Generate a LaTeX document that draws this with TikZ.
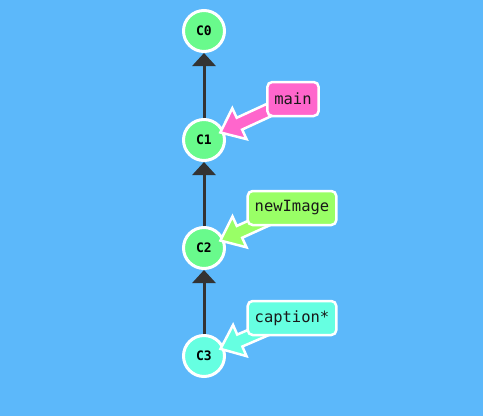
\documentclass[tikz,border=0pt]{standalone}
\usepackage{fontspec}
\setmonofont{DejaVu Sans Mono}
\usetikzlibrary{arrows.meta,calc}
\pgfdeclarelayer{fat}
\pgfdeclarelayer{top}
\pgfsetlayers{main,fat,top}
\definecolor{bg}{RGB}{92,184,250}
\definecolor{commitgreen}{RGB}{105,250,140}
\definecolor{commitcyan}{RGB}{102,255,225}
\definecolor{mainpink}{RGB}{255,102,204}
\definecolor{limegreen}{RGB}{153,255,102}
\definecolor{edgegray}{RGB}{51,51,51}
\newcommand\fatarrow[3]{%
  \begin{pgfonlayer}{fat}
    \coordinate (T) at ($(#2)!18pt!(#1)$);
    \coordinate (H) at ($(T)!21pt!(#1)$);
    \filldraw[fill=#3, draw=white, line width=2.5pt, line join=miter]
      (T) -- ($(H)!17pt!90:(#1)$) -- ($(H)!6.5pt!90:(#1)$)
      -- ($(#1)!6.5pt!-90:(T)$) -- ($(#1)!6.5pt!90:(T)$)
      -- ($(H)!6.5pt!-90:(#1)$) -- ($(H)!17pt!-90:(#1)$) -- cycle;
  \end{pgfonlayer}}
\begin{document}
\begin{tikzpicture}[x=1pt,y=-1pt,
  commit/.style={circle, draw=white, line width=3pt, minimum size=41pt, inner sep=0pt,
    font=\ttfamily\bfseries\fontsize{13}{13}\selectfont, text=black},
  branchlabel/.style={rounded corners=5pt, draw=white, line width=2.5pt,
    minimum height=34pt, inner xsep=7pt, inner ysep=0pt,
    font=\ttfamily\fontsize{15.5}{15.5}\selectfont, text=black!90},
  edge/.style={draw=edgegray, line width=3pt, -{Triangle[width=23pt,length=13pt]}}]
\fill[bg] (0,0) rectangle (483,416);
\useasboundingbox (0,0) rectangle (483,416);

\node[commit, fill=commitgreen] (c0) at (204,31) {C0};
\node[commit, fill=commitgreen] (c1) at (204,140) {C1};
\node[commit, fill=commitgreen] (c2) at (204,248) {C2};
\node[commit, fill=commitcyan] (c3) at (204,356) {C3};

\draw[edge] (c1) -- (c0);
\draw[edge] (c2) -- (c1);
\draw[edge] (c3) -- (c2);

\begin{pgfonlayer}{top}
\node[branchlabel, fill=mainpink] (lmain) at (293,99) {main};
\node[branchlabel, fill=limegreen] (lnew) at (292,208) {newImage};
\node[branchlabel, fill=commitcyan] (lcap) at (292,318) {caption*};
\end{pgfonlayer}

\fatarrow{lmain}{c1}{mainpink}
\fatarrow{lnew}{c2}{limegreen}
\fatarrow{lcap}{c3}{commitcyan}
\end{tikzpicture}
\end{document}
